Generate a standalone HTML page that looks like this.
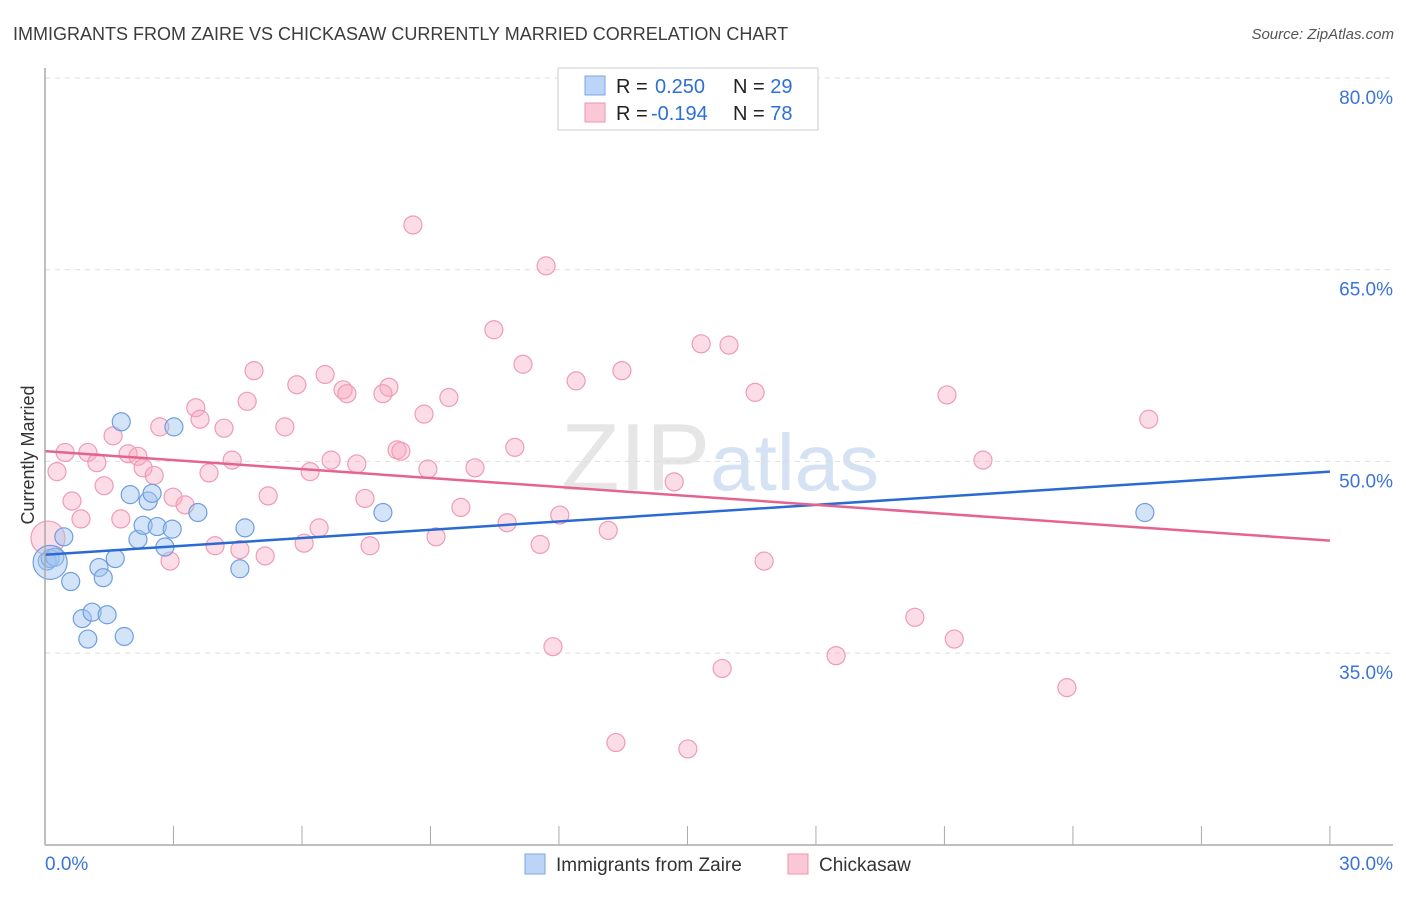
<!DOCTYPE html>
<html><head><meta charset="utf-8"><style>
body{margin:0;background:#fff;font-family:"Liberation Sans",sans-serif;}
svg text{font-family:"Liberation Sans",sans-serif;}
</style></head><body>
<svg id="chart" width="1406" height="892" xmlns="http://www.w3.org/2000/svg">
<text x="13" y="40" font-size="18" fill="#3c3c3c">IMMIGRANTS FROM ZAIRE VS CHICKASAW CURRENTLY MARRIED CORRELATION CHART</text>
<text x="1394" y="39" font-size="15" fill="#555" font-style="italic" text-anchor="end">Source: ZipAtlas.com</text>
<text x="720" y="490" font-size="96" fill="#e6e6e6" text-anchor="middle" font-family="Liberation Serif">ZIP<tspan fill="#d5e2f3" font-family="Liberation Sans" font-size="80">atlas</tspan></text>
<text transform="translate(34,455) rotate(-90)" font-size="18" fill="#333" text-anchor="middle">Currently Married</text>
<g id="grid"></g><g id="pts"></g><g id="lines"></g>
<line x1="45" y1="68" x2="45" y2="845" stroke="#aaa" stroke-width="1.5"/>
<line x1="45" y1="845" x2="1393" y2="845" stroke="#aaa" stroke-width="1.5"/>
<g>
<rect x="558" y="68" width="260" height="62" fill="#fff" stroke="#ccc"/>
<rect x="585" y="76" width="20" height="19" fill="#bcd4f5" stroke="#7aa6e6"/>
<rect x="585" y="103" width="20" height="19" fill="#fac8d6" stroke="#ef94b1"/>
<text x="616" y="93" font-size="20" fill="#222">R = <tspan fill="#2e6fd6" x="655">0.250</tspan><tspan x="733" fill="#222">N = </tspan><tspan fill="#2e6fd6">29</tspan></text>
<text x="616" y="120" font-size="20" fill="#222">R = <tspan fill="#2e6fd6" x="651">-0.194</tspan><tspan x="733" fill="#222">N = </tspan><tspan fill="#2e6fd6">78</tspan></text>
</g>
<g>
<rect x="525" y="854" width="20" height="20" fill="#bcd4f5" stroke="#7aa6e6"/>
<text x="556" y="871" font-size="19" fill="#333">Immigrants from Zaire</text>
<rect x="788" y="854" width="20" height="20" fill="#fac8d6" stroke="#ef94b1"/>
<text x="819" y="871" font-size="19" fill="#333">Chickasaw</text>
</g>
</svg>
<script>
const yTicks=[80,65,50,35];
const yTickLabels=["80.0%","65.0%","50.0%","35.0%"];
const xTickLabels=["0.0%","30.0%"];
const zaireX=[0.05,0.12,0.23,0.44,0.60,0.87,1.0,1.1,1.26,1.36,1.45,1.64,1.78,1.85,1.99,2.17,2.29,2.41,2.5,2.62,2.8,2.97,3.01,3.57,4.55,4.67,7.89,25.68,0.12];
const zaireY=[42.2,42.4,42.5,44.1,40.6,37.7,36.1,38.2,41.7,40.9,38.0,42.4,53.1,36.3,47.4,43.9,45.0,46.9,47.5,44.9,43.3,44.7,52.7,46.0,41.6,44.8,46.0,46.0,42.1];
const zaireR=[9,9,9,9,9,9,9,9,9,9,9,9,9,9,9,9,9,9,9,9,9,9,9,9,9,9,9,9,17];
const chickX=[8.59,11.7,10.48,15.32,15.97,11.16,12.4,13.47,4.88,6.54,5.88,6.96,7.05,8.03,7.89,9.43,16.58,21.06,25.77,4.72,3.52,3.62,2.68,4.18,5.6,8.85,1.59,0.47,1.0,1.94,2.17,1.21,2.29,2.55,0.28,4.37,6.68,7.28,8.22,8.31,10.97,10.04,8.94,6.19,3.83,21.9,14.69,0.63,1.38,2.99,3.27,5.21,7.47,9.71,0.84,1.77,6.4,10.79,12.02,13.15,3.97,4.55,5.14,6.05,7.59,9.13,11.56,2.92,16.79,20.31,21.23,11.86,18.47,15.81,23.86,13.33,15.01,0.07];
const chickY=[68.5,65.3,60.3,59.2,59.1,57.6,56.3,57.1,57.1,56.8,56.0,55.6,55.3,55.8,55.3,55.0,55.4,55.2,53.3,54.7,54.2,53.3,52.7,52.6,52.7,53.7,52.0,50.7,50.7,50.6,50.4,49.9,49.5,48.9,49.2,50.1,50.1,49.8,50.9,50.8,51.1,49.5,49.4,49.2,49.1,50.1,48.4,46.9,48.1,47.2,46.6,47.3,47.1,46.4,45.5,45.5,44.8,45.2,45.8,44.6,43.4,43.1,42.6,43.6,43.4,44.1,43.5,42.2,42.2,37.8,36.1,35.5,34.8,33.8,32.3,28.0,27.5,44.0];
const chickR=chickX.map((_,i)=>i===chickX.length-1?17:9);
const trendZaire=[42.7,49.2];
const trendChick=[50.8,43.8];
const X0=45,PX=42.83,Y0=78;
const sx=v=>X0+v*PX, sy=v=>Y0+(80-v)*12.78;
const NS="http://www.w3.org/2000/svg";
function mk(t,p,a){const e=document.createElementNS(NS,t);for(const k in a)e.setAttribute(k,a[k]);p.appendChild(e);return e;}
const grid=document.getElementById('grid'),pts=document.getElementById('pts'),lines=document.getElementById('lines');
yTicks.forEach((v,i)=>{
 const l=mk('line',grid,{x1:45,x2:1393,y1:sy(v),y2:sy(v),stroke:'#ddd','stroke-dasharray':'5,5'});
 
 
 const t=mk('text',grid,{x:1393,y:sy(v)+26,'font-size':19,fill:'#3b74d6','text-anchor':'end'});t.textContent=yTickLabels[i];
 
 
});
for(let i=0;i<=10;i++){const x=sx(i*3);const l=mk('line',grid,{x1:x,x2:x,y1:826,y2:845,stroke:'#aaa'});
 
 }
[[0,'start',45],[30,'end',1393]].forEach((d,i)=>{const t=mk('text',grid,{x:d[2],y:870,'font-size':19,fill:'#3b74d6','text-anchor':d[1]});t.textContent=xTickLabels[i];
 
 });
chickX.forEach((x,i)=>{const c=mk('circle',pts,{cx:sx(x),cy:sy(chickY[i]),r:chickR[i],fill:'rgba(247,168,192,0.4)',stroke:'#ee9cb6','stroke-width':1.2});
 
 });
zaireX.forEach((x,i)=>{const c=mk('circle',pts,{cx:sx(x),cy:sy(zaireY[i]),r:zaireR[i],fill:'rgba(160,195,240,0.45)',stroke:'#6e9ee0','stroke-width':1.2});
 
 });
const lb=mk('line',lines,{x1:sx(0),x2:sx(30),y1:sy(trendZaire[0]),y2:sy(trendZaire[1]),stroke:'#2a6bd3','stroke-width':2.5});


const lp=mk('line',lines,{x1:sx(0),x2:sx(30),y1:sy(trendChick[0]),y2:sy(trendChick[1]),stroke:'#e5648f','stroke-width':2.5});


</script>
</body></html>
